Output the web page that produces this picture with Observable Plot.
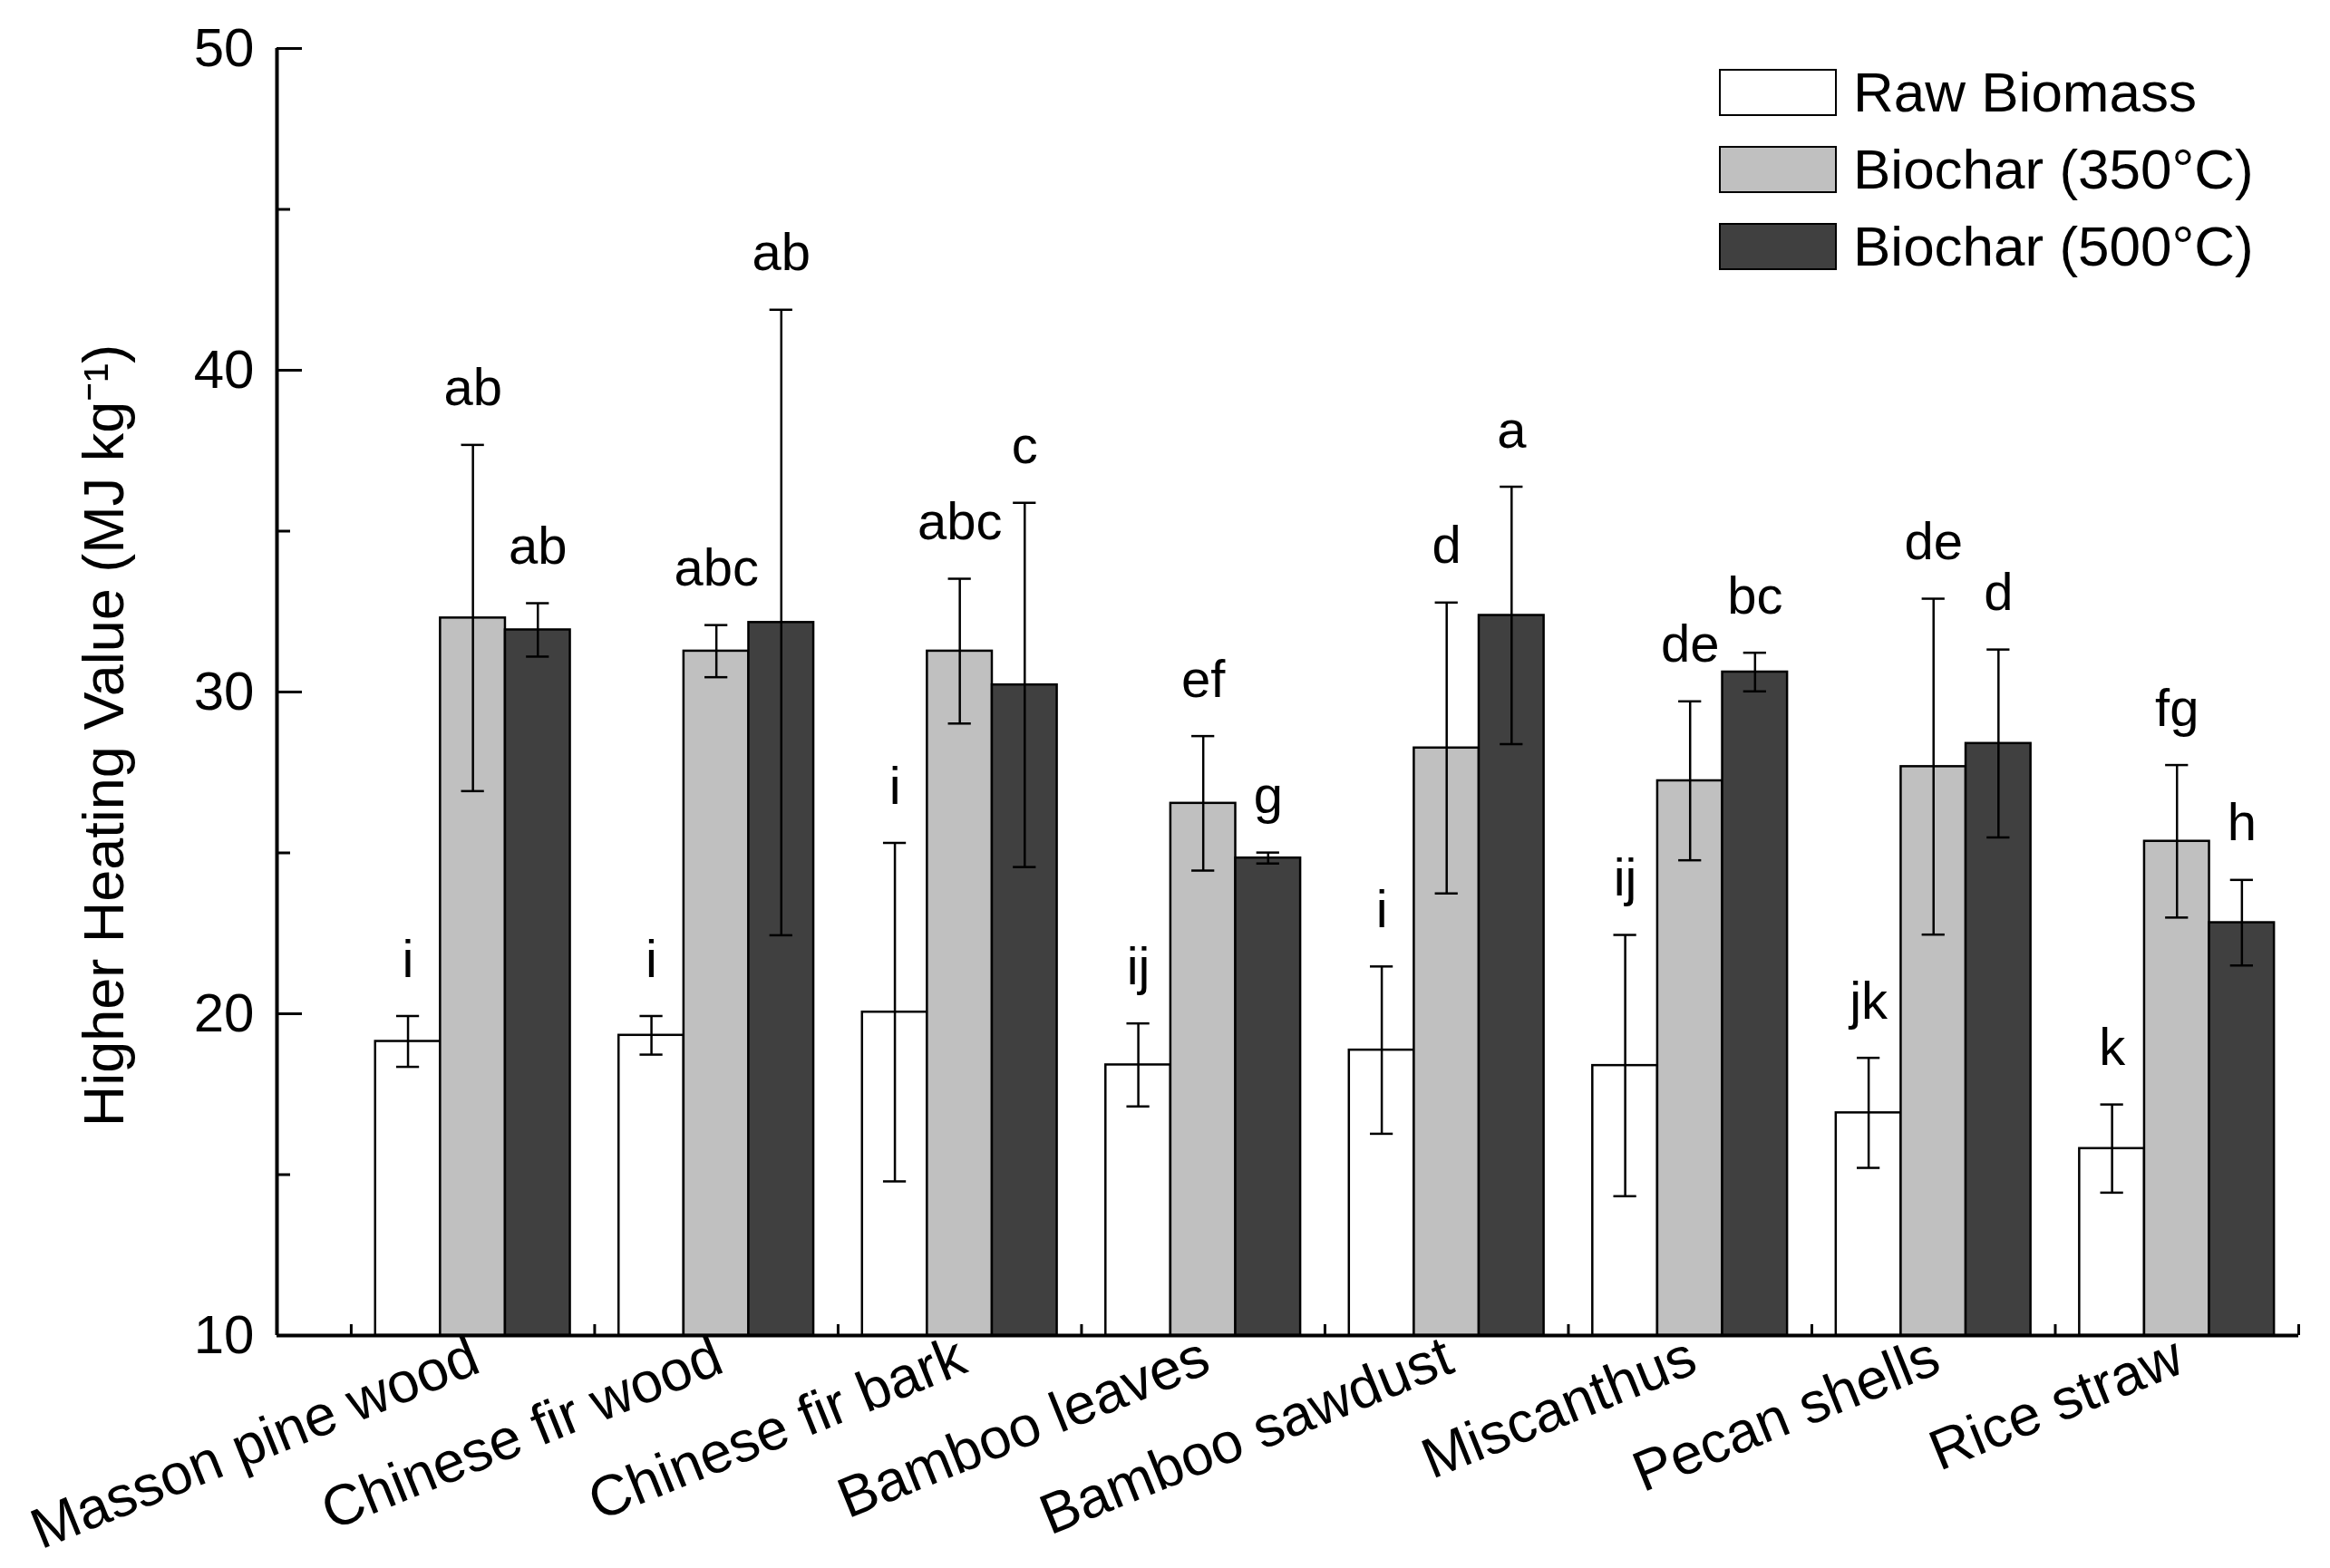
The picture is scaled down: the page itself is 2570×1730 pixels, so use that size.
<!DOCTYPE html>
<html>
<head>
<meta charset="utf-8">
<script src="https://cdn.jsdelivr.net/npm/d3@7"></script>
<script src="https://cdn.jsdelivr.net/npm/@observablehq/plot@0.6"></script>
<style>
  html, body { margin: 0; padding: 0; background: #fff; }
  #wrap { position: relative; width: 2570px; height: 1730px; font-family: "Liberation Sans", Arial, sans-serif; }
  #legend { position: absolute; left: 1896px; top: 76px; }
  .row { display: flex; align-items: center; height: 52px; margin-bottom: 33px; }
  .sw { width: 126px; height: 48px; border: 2.5px solid #000; box-sizing: content-box; }
  .lab { margin-left: 18px; font-size: 62px; line-height: 1; color: #000; white-space: nowrap; }
</style>
</head>
<body>
<div id="wrap"></div>
<script>
const categories = ["Masson pine wood", "Chinese fir wood", "Chinese fir bark", "Bamboo leaves", "Bamboo sawdust", "Miscanthus", "Pecan shells", "Rice straw"];
const seriesNames = ["Raw Biomass", "Biochar (350°C)", "Biochar (500°C)"];
const seriesColors = ["#ffffff", "#c0c0c0", "#404040"];

const raw     = [19.14, 19.33, 20.05, 18.41, 18.87, 18.39, 16.92, 15.81];
const rawErr  = [0.79, 0.60, 5.26, 1.29, 2.60, 4.06, 1.71, 1.37];
const b350    = [32.30, 31.27, 31.27, 26.54, 28.26, 27.24, 27.68, 25.36];
const b350Err = [5.38, 0.81, 2.25, 2.09, 4.52, 2.47, 5.22, 2.37];
const b500    = [31.93, 32.16, 30.22, 24.84, 32.38, 30.62, 28.40, 22.83];
const b500Err = [0.83, 9.72, 5.66, 0.17, 4.00, 0.60, 2.92, 1.33];

const rawLetters  = ["i", "i", "i", "ij", "i", "ij", "jk", "k"];
const b350Letters = ["ab", "abc", "abc", "ef", "d", "de", "de", "fg"];
const b500Letters = ["ab", "ab", "c", "g", "a", "bc", "d", "h"];

const yMajor = [10, 20, 30, 40, 50];
const yMinor = [15, 25, 35, 45];
const yTitle = "Higher Heating Value (MJ kg⁻¹)";

// layout of the category axis (one unit per category)
const xMin = 0.195, xMax = 8.5;
const groupWidth = 0.8;
const barW = groupWidth / 3;
const capHalf = 0.047;

const values = [raw, b350, b500];
const errs = [rawErr, b350Err, b500Err];
const letters = [rawLetters, b350Letters, b500Letters];

const rows = [];
categories.forEach((c, i) => {
  for (let s = 0; s < 3; s++) {
    const x1 = (i + 1) - groupWidth / 2 + s * barW;
    rows.push({
      category: c, series: seriesNames[s],
      x1, x2: x1 + barW, xc: x1 + barW / 2,
      value: values[s][i], err: errs[s][i], letter: letters[s][i]
    });
  }
});
rows.forEach(d => { d.lo = d.value - d.err; d.hi = d.value + d.err; });

const boundaries = d3.range(0, categories.length + 1).map(k => k + 0.5);

const font = "Liberation Sans, Arial, sans-serif";

const chart = Plot.plot({
  width: 2570,
  height: 1730,
  marginLeft: 305,
  marginRight: 35,
  marginTop: 53,
  marginBottom: 257,
  style: { fontFamily: font, background: "#fff", overflow: "visible", color: "#000" },
  x: { domain: [xMin, xMax] },
  y: { domain: [10, 50] },
  color: { domain: seriesNames, range: seriesColors },
  marks: [
    Plot.rect(rows, { x1: "x1", x2: "x2", y1: 10, y2: "value", fill: "series", stroke: "#000", strokeWidth: 2.5 }),
    Plot.ruleX(rows, { x: "xc", y1: "lo", y2: "hi", stroke: "#000", strokeWidth: 2.5 }),
    Plot.ruleY(rows, { y: "hi", x1: d => d.xc - capHalf, x2: d => d.xc + capHalf, stroke: "#000", strokeWidth: 2.5 }),
    Plot.ruleY(rows, { y: "lo", x1: d => d.xc - capHalf, x2: d => d.xc + capHalf, stroke: "#000", strokeWidth: 2.5 }),
    Plot.text(rows, { x: "xc", y: "hi", text: "letter", dy: -62, lineAnchor: "middle", fontSize: 58, fill: "#000" }),
    // axis lines
    Plot.ruleX([xMin], { stroke: "#000", strokeWidth: 4 }),
    Plot.ruleY([10], { stroke: "#000", strokeWidth: 4 }),
    // y ticks (inward) and labels
    Plot.axisY({ ticks: yMajor, tickSize: -28, tickFormat: () => "", strokeWidth: 3 }),
    Plot.axisY({ ticks: yMinor, tickSize: -15, tickFormat: () => "", strokeWidth: 3 }),
    Plot.axisY({ ticks: yMajor, tickSize: 0, tickPadding: 25, fontSize: 60, label: null, fill: "#000" }),
    // x ticks at category boundaries (inward)
    Plot.axisX({ ticks: boundaries, tickSize: -12, tickFormat: () => "", label: null, strokeWidth: 3 }),
    // category labels
    Plot.text(categories, { x: (d, i) => i + 1, frameAnchor: "bottom", text: d => d, rotate: -22, textAnchor: "end", lineAnchor: "top", dy: -2, dx: -6, fontSize: 63, fill: "#000" }),
    // y title
    Plot.text([yTitle], { frameAnchor: "left", text: d => d, rotate: -90, dx: -190, dy: 48, fontSize: 63, textAnchor: "middle", lineAnchor: "middle", fill: "#000" })
  ]
});

const wrap = document.getElementById("wrap");
wrap.appendChild(chart);

const legend = document.createElement("div");
legend.id = "legend";
seriesNames.forEach((name, i) => {
  const row = document.createElement("div");
  row.className = "row";
  const sw = document.createElement("div");
  sw.className = "sw";
  sw.style.background = seriesColors[i];
  const lab = document.createElement("span");
  lab.className = "lab";
  lab.textContent = name;
  row.appendChild(sw);
  row.appendChild(lab);
  legend.appendChild(row);
});
wrap.appendChild(legend);
</script>
</body>
</html>
